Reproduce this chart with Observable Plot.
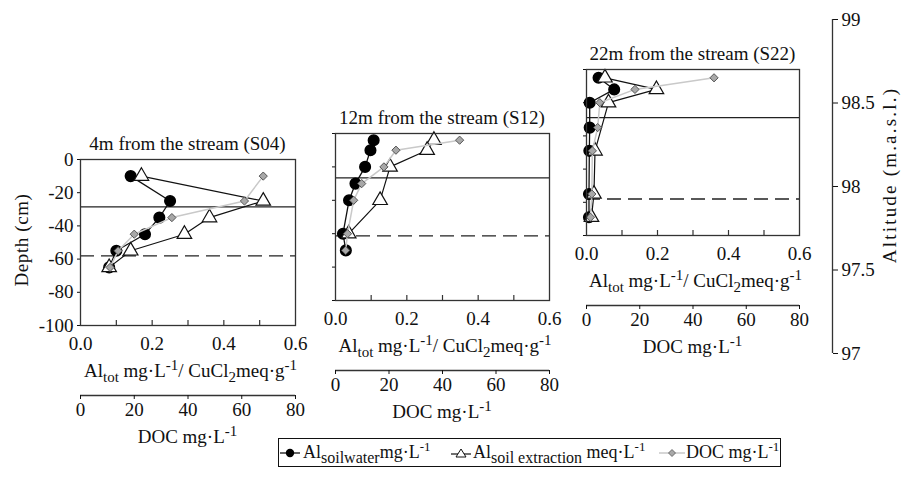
<!DOCTYPE html>
<html><head><meta charset="utf-8">
<script src="https://cdn.jsdelivr.net/npm/d3@7"></script>
<script src="https://cdn.jsdelivr.net/npm/@observablehq/plot@0.6"></script>
<style>
body{margin:0;background:#fff;}
#c{position:relative;width:904px;height:478px;font-family:"Liberation Serif","Times New Roman",serif;color:#111;overflow:hidden;background:#fff}
.abs{position:absolute}
.t{font-size:19px;white-space:nowrap;line-height:24px}
.t sub,.t sup{font-size:15px;line-height:0}
.lg{font-size:18px;line-height:20px}
.lg span{position:absolute;top:3px;white-space:nowrap}
.lg svg{position:absolute;top:8px}
.lg sub{font-size:16px;line-height:0}
.lg sup{font-size:13px;line-height:0}
svg{overflow:visible}
</style></head><body><div id="c"></div>
<script>
// ---------- data ----------
const depthS04 = [-10, -25, -35, -45, -55, -65];
const alSoilwaterS04 = [0.14, 0.25, 0.22, 0.18, 0.10, 0.08];
const alExtractionS04 = [0.17, 0.51, 0.36, 0.29, 0.14, 0.08];
const docS04 = [68, 61, 34, 20, 14, 11];
const horizonS04 = [-28.5, -58];

const depthSoilwaterS12 = [-4, -10, -20, -30, -40, -60, -70];
const alSoilwaterS12 = [0.107, 0.098, 0.083, 0.056, 0.038, 0.021, 0.029];
const depthExtractionS12 = [-4, -10, -20, -40, -60];
const alExtractionS12 = [0.276, 0.257, 0.153, 0.125, 0.037];
const depthDocS12 = [-4, -10, -20, -30, -40, -60, -70];
const docS12 = [46.4, 22.6, 18.1, 9.8, 6.8, 4.5, 3.8];
const horizonS12 = [-26.6, -61.3];

const depthSoilwaterS22 = [-5, -12, -20, -35, -49, -75, -89];
const alSoilwaterS22 = [0.034, 0.078, 0.009, 0.009, 0.008, 0.007, 0.007];
const depthExtractionS22 = [-5, -12, -20, -49, -75, -89];
const alExtractionS22 = [0.052, 0.197, 0.062, 0.024, 0.021, 0.014];
const depthDocS22 = [-5, -12, -20, -35, -49, -75, -89];
const docS22 = [47.9, 18.2, 5.0, 4.2, 2.2, 2.0, 1.5];
const horizonS22 = [-29, -78];

const panelTitles = ["4m from the stream (S04)", "12m from the stream (S12)", "22m from the stream (S22)"];
const alTickLabels = [0, 0.2, 0.4, 0.6];
const alMinorTicks = [0.1, 0.2, 0.3, 0.4, 0.5];
const docTicks = [0, 20, 40, 60, 80];
const depthTicks = [0, -20, -40, -60, -80, -100];
const altitudeTicks = [97, 97.5, 98, 98.5, 99];
const AL_MAX = 0.6, DOC_MAX = 80;

// ---------- layout ----------
const FONT = '"Liberation Serif","Times New Roman",serif';
const C = document.getElementById("c");
const layouts = [
  {left: 80, top: 159, w: 215, h: 166, yLabels: true},
  {left: 335, top: 133, w: 214, h: 167, yLabels: false},
  {left: 586, top: 69, w: 213, h: 166, yLabels: false}
];
const series = [
  {sd: depthS04, sv: alSoilwaterS04, ed: depthS04, ev: alExtractionS04, dd: depthS04, dv: docS04, hz: horizonS04},
  {sd: depthSoilwaterS12, sv: alSoilwaterS12, ed: depthExtractionS12, ev: alExtractionS12, dd: depthDocS12, dv: docS12, hz: horizonS12},
  {sd: depthSoilwaterS22, sv: alSoilwaterS22, ed: depthExtractionS22, ev: alExtractionS22, dd: depthDocS22, dv: docS22, hz: horizonS22}
];

function place(el, left, top) {
  el.style.position = "absolute";
  el.style.left = left + "px";
  el.style.top = top + "px";
  C.appendChild(el);
}
function text(html, cx, cy, extra, css) {
  const d = document.createElement("div");
  d.className = "t abs";
  d.innerHTML = html;
  d.style.left = cx + "px";
  d.style.top = cy + "px";
  d.style.transform = "translate(-50%,-50%)" + (extra || "");
  if (css) d.style.cssText += css;
  C.appendChild(d);
}
const zip = (ds, vs) => ds.map((d, i) => ({depth: d, v: vs[i]}));

layouts.forEach((L, k) => {
  const s = series[k];
  const soil = zip(s.sd, s.sv), extr = zip(s.ed, s.ev), doc = zip(s.dd, s.dv);
  const mL = L.yLabels ? 60 : 12, mT = 6, mR = 12, mB = 36;
  const docX = d => d.v * AL_MAX / DOC_MAX;
  const chart = Plot.plot({
    width: L.w + mL + mR, height: L.h + mT + mB,
    marginLeft: mL, marginTop: mT, marginRight: mR, marginBottom: mB,
    style: {fontFamily: FONT, fontSize: "19px", color: "#111", background: "transparent", overflow: "visible"},
    x: {domain: [0, AL_MAX]},
    y: {domain: [-100, 0]},
    marks: [
      Plot.ruleY([s.hz[0]], {stroke: "#222", strokeWidth: 1.3}),
      Plot.ruleY([s.hz[1]], {stroke: "#222", strokeWidth: 1.3, strokeDasharray: "14,7"}),
      Plot.ruleX(alMinorTicks, {y1: -100, y2: -97, stroke: "#333", strokeWidth: 1.2}),
      Plot.axisX(alTickLabels, {tickSize: 0, tickPadding: 11, tickFormat: d => d.toFixed(1), label: null}),
      Plot.axisY(depthTicks, {tickSize: 3, tickPadding: 4, tickFormat: L.yLabels ? (d => String(d)) : (() => ""), label: null}),
      Plot.line(soil, {x: "v", y: "depth", stroke: "#111", strokeWidth: 1.3}),
      Plot.dot(soil, {x: "v", y: "depth", r: 5.3, fill: "#000", stroke: "#000"}),
      Plot.line(extr, {x: "v", y: "depth", stroke: "#111", strokeWidth: 1.2}),
      Plot.dot(extr, {x: "v", y: "depth", symbol: "triangle", r: 5.4, fill: "#fff", stroke: "#111", strokeWidth: 1.2}),
      Plot.line(doc, {x: docX, y: "depth", stroke: "#c9c9c9", strokeWidth: 1.5}),
      Plot.dot(doc, {x: docX, y: "depth", symbol: "diamond2", r: 3.7, fill: "#a8a8a8", stroke: "#555", strokeWidth: 1}),
      Plot.frame({stroke: "#333", strokeWidth: 1.3})
    ]
  });
  place(chart, L.left - mL, L.top - mT);

  // DOC secondary axis
  const dm = 20;
  const docAxis = Plot.plot({
    width: L.w + 2 * dm, height: 40, marginLeft: dm, marginRight: dm, marginTop: 1, marginBottom: 37,
    style: {fontFamily: FONT, fontSize: "19px", color: "#111", background: "transparent", overflow: "visible"},
    x: {domain: [0, DOC_MAX]},
    y: {domain: [0, 1], axis: null},
    marks: [
      Plot.ruleY([0], {stroke: "#333", strokeWidth: 1.3}),
      Plot.axisX(docTicks, {tickSize: 4, tickPadding: 3, tickFormat: d => String(d), label: null})
    ]
  });
  place(docAxis, L.left - dm, L.top + L.h + 70 - 3);

  const cx = L.left + L.w / 2;
  text(panelTitles[k], cx, L.top - 15);
  text("Al<sub>tot</sub> mg·L<sup>-1</sup>/ CuCl<sub>2</sub>meq·g<sup>-1</sup>", cx + 3, L.top + L.h + 46);
  text("DOC mg·L<sup>-1</sup>", cx, L.top + L.h + 112);
});

text("Depth (cm)", 22, 240, " rotate(-90deg)", "letter-spacing:0.6px");

// altitude axis
const alt = Plot.plot({
  width: 70, height: 354, marginLeft: 2, marginRight: 60, marginTop: 10, marginBottom: 10,
  style: {fontFamily: FONT, fontSize: "19px", color: "#111", background: "transparent", overflow: "visible"},
  x: {domain: [0, 1], axis: null},
  y: {domain: [97, 99]},
  marks: [
    Plot.ruleX([1], {stroke: "#333", strokeWidth: 1.3}),
    Plot.axisY(altitudeTicks, {anchor: "right", tickSize: 5, tickPadding: 4, tickFormat: d => String(d), label: null})
  ]
});
place(alt, 832 - 10, 19 - 10);
text("Altitude (m.a.s.l.)", 890, 175, " rotate(-90deg)", "letter-spacing:2.2px");

// legend
const lg = document.createElement("div");
lg.className = "lg";
lg.style.cssText = "position:absolute;left:278px;top:438px;width:501px;height:27px;border:1.5px solid #111;";
lg.innerHTML =
  '<svg width="20" height="12" style="left:1px"><line x1="0" y1="6" x2="20" y2="6" stroke="#111" stroke-width="1.3"/><circle cx="10" cy="6" r="4.2" fill="#000"/></svg>' +
  '<span style="left:24px">Al<sub>soilwater</sub>mg·L<sup>-1</sup></span>' +
  '<svg width="20" height="12" style="left:172px"><line x1="0" y1="7" x2="20" y2="7" stroke="#111" stroke-width="1.2"/><path d="M10,2 L15,10 L5,10 Z" fill="#fff" stroke="#111" stroke-width="1"/></svg>' +
  '<span style="left:194px">Al<sub>soil extraction</sub> meq·L<sup>-1</sup></span>' +
  '<svg width="26" height="12" style="left:380px"><line x1="0" y1="6" x2="26" y2="6" stroke="#c9c9c9" stroke-width="1.5"/><path d="M13,2.5 L16.5,6 L13,9.5 L9.5,6 Z" fill="#a8a8a8" stroke="#555" stroke-width="0.8"/></svg>' +
  '<span style="left:407px">DOC mg·L<sup>-1</sup></span>';
C.appendChild(lg);
</script></body></html>
